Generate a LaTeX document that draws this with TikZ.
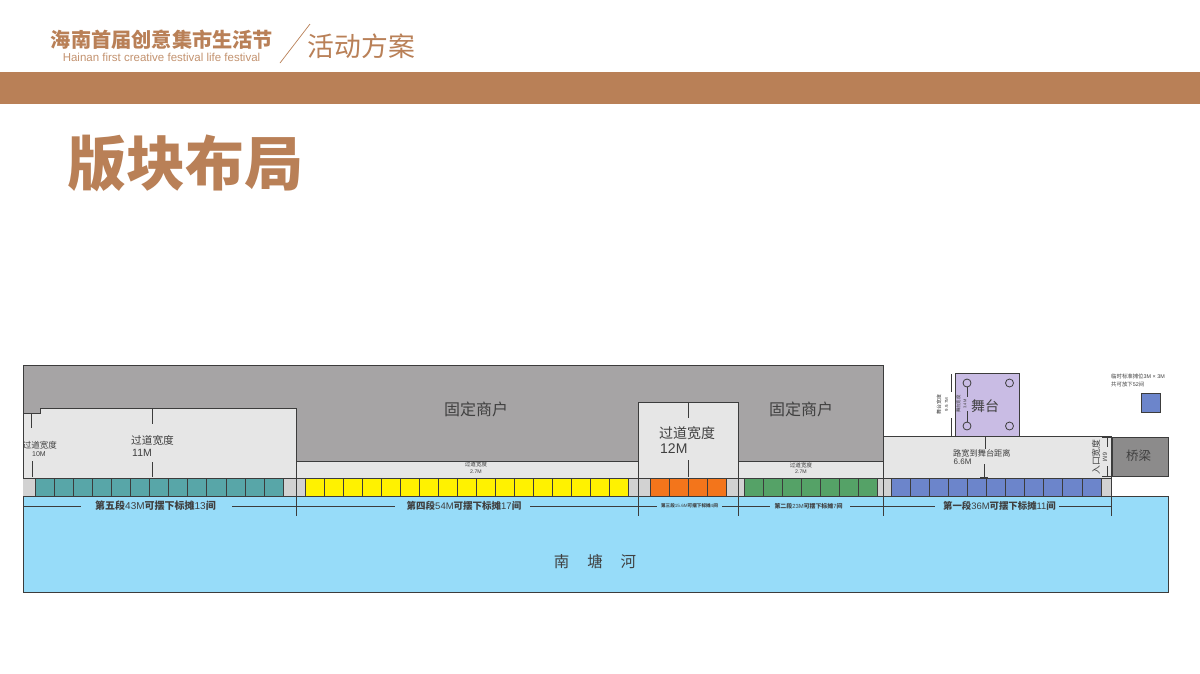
\documentclass[tikz,border=0pt]{standalone}
\usepackage{fontspec}
\setmainfont{Noto Sans CJK SC}
\newfontfamily\latinfont{Liberation Sans}
\usetikzlibrary{positioning}
\definecolor{brandBrown}{HTML}{B98057}
\definecolor{shopGray}{HTML}{A6A4A5}
\definecolor{walkGray}{HTML}{E6E6E6}
\definecolor{gapGray}{HTML}{D2D2D2}
\definecolor{lineDark}{HTML}{3C3C3C}
\definecolor{textDark}{HTML}{404040}
\definecolor{riverBlue}{HTML}{97DCF9}
\definecolor{bridgeGray}{HTML}{8C8B8B}
\definecolor{stageViolet}{HTML}{C9BCE4}
\definecolor{stallTeal}{HTML}{58A6A8}
\definecolor{stallYellow}{HTML}{FFF200}
\definecolor{stallOrange}{HTML}{F3751B}
\definecolor{stallGreen}{HTML}{55A267}
\definecolor{stallBlue}{HTML}{6C85CB}
\newcommand{\fs}[1]{\fontsize{#1}{#1}\selectfont}
\newcommand{\seglabel}[3]{\textbf{#1}{\latinfont #2}\textbf{可摆下标摊}{\latinfont #3}\textbf{间}}
\tikzset{
    plot/.style={draw=lineDark, line width=0.8pt},
    rule/.style={draw=lineDark, line width=0.7pt},
    lbl/.style={inner sep=0pt, text=textDark, align=left},
    head/.style={inner sep=0pt, text=brandBrown},
    pillar/.style={draw=lineDark, line width=0.8pt, fill=stageViolet}
}
\begin{document}
\begin{tikzpicture}[x=1pt, y=-1pt]
    \useasboundingbox (0,0) rectangle (1200,673);
    \fill[white] (0,0) rectangle (1200,673);

    \fill[brandBrown] (0,72) rectangle (1200,104);
    \node[head, font=\fs{20.2}\bfseries] (brand) at (162,40) {海南首届创意集市生活节};
    \node[head, font=\latinfont\fs{11.5}, opacity=0.85] (brandEn) at (161.5,57) {Hainan first creative festival life festival};
    \coordinate (slashA) at (280,63);
    \coordinate (slashB) at (310,24);
    \draw[brandBrown, line width=0.7pt] (slashA) -- (slashB);
    \node[head, font=\fs{26.8}] (plan) at (361.5,46) {活动方案};
    \node[head, font=\fs{59}\bfseries] (title) at (185,163) {版块布局};

    \filldraw[plot, fill=riverBlue] (23,496) rectangle (1168,592);
    \filldraw[plot, fill=shopGray] (23,365) rectangle (883,478);
    \filldraw[plot, fill=walkGray] (23,413) -- (40,413) -- (40,408) -- (296,408) -- (296,478) -- (23,478) -- cycle;
    \filldraw[plot, fill=walkGray] (296,461) rectangle (638,478);
    \filldraw[plot, fill=walkGray] (738,461) rectangle (883,478);
    \filldraw[plot, fill=walkGray] (638,402) rectangle (738,478);
    \filldraw[plot, fill=walkGray] (883,436) rectangle (1111,478);
    \fill[gapGray] (23.4,478) rectangle (1111,496);
    \draw[plot] (23,478) -- (1111,478);
    \draw[plot] (1111,478) -- (1111,496);

    \foreach \startx/\endx/\num/\col in {35.5/283/13/stallTeal, 305/628/17/stallYellow, 650/726/4/stallOrange, 744/877/7/stallGreen, 891/1101/11/stallBlue} {
        \pgfmathsetmacro{\cellw}{(\endx-\startx)/\num}
        \foreach \i in {1,...,\num} {
            \filldraw[rule, fill=\col] ({\startx+(\i-1)*\cellw},478) rectangle ({\startx+\i*\cellw},496);
        }
    }

    \foreach \divx/\topy in {296/478, 638.5/478, 738/478, 883/478, 1111/496} {
        \draw[rule] (\divx,\topy) -- (\divx,516);
    }
    \foreach \xa/\xb in {23/81, 232/395, 530/657, 722/770, 850/935, 1059/1111} {
        \draw[rule] (\xa,506) -- (\xb,506);
    }

    \node[lbl, font=\fs{10}] (segFive) at (155.5,506) {\seglabel{第五段}{43M}{13}};
    \node[lbl, font=\fs{9.5}] (segFour) at (464,506) {\seglabel{第四段}{54M}{17}};
    \node[lbl, font=\fs{4.6}] (segThree) at (689.5,506) {\seglabel{第三段}{15.6M}{4}};
    \node[lbl, font=\fs{5.9}] (segTwo) at (808.5,506) {\seglabel{第二段}{23M}{7}};
    \node[lbl, font=\fs{9.4}] (segOne) at (999.5,506) {\seglabel{第一段}{36M}{11}};

    \node[lbl, font=\fs{16}] (shopA) at (476,409) {固定商户};
    \node[lbl, font=\fs{16}] (shopB) at (801,409) {固定商户};

    \draw[rule] (31,413) -- (31,428);
    \draw[rule] (32,461) -- (32,477);
    \node[lbl, font=\fs{8.5}] (walkTen) at (40,445) {过道宽度};
    \node[lbl, font=\latinfont\fs{7}] (walkTenV) at (39,454) {10M};

    \draw[rule] (152.5,408) -- (152.5,424);
    \draw[rule] (152.5,462) -- (152.5,477);
    \node[lbl, font=\fs{10.7}] (walkEleven) at (152.5,440) {过道宽度};
    \node[lbl, font=\latinfont\fs{10.5}, anchor=west] (walkElevenV) at (132,453) {11M};

    \draw[rule] (688,402) -- (688,418);
    \draw[rule] (688,460) -- (688,477);
    \node[lbl, font=\fs{14}] (walkTwelve) at (687,433) {过道宽度};
    \node[lbl, font=\latinfont\fs{14}, anchor=west] (walkTwelveV) at (660,449) {12M};

    \node[lbl, font=\fs{5.6}] (walkA) at (476,464.5) {过道宽度};
    \node[lbl, font=\latinfont\fs{5.2}] (walkAV) at (476,471.5) {2.7M};
    \node[lbl, font=\fs{5.6}] (walkB) at (801,465) {过道宽度};
    \node[lbl, font=\latinfont\fs{5.2}] (walkBV) at (801,471.5) {2.7M};

    \node[lbl, font=\fs{15.5}] (river) at (595,562) {南\hspace{18pt}塘\hspace{18pt}河};

    \filldraw[plot, fill=bridgeGray] (1112,437) rectangle (1168,476);
    \node[lbl, font=\fs{12.5}] (bridge) at (1138.5,456) {桥梁};

    \filldraw[plot, fill=stageViolet] (955,373.5) rectangle (1019,436);
    \foreach \px/\py in {967/383, 1009.5/383, 967/426, 1009.5/426} {
        \draw[pillar] (\px,\py) circle (4);
    }
    \draw[rule] (967,387) -- (967,397);
    \draw[rule] (967,411) -- (967,422);
    \node[lbl, font=\fs{14}] (stage) at (985,406) {舞台};
    \node[lbl, font=\fs{4.4}, rotate=90] (stageInner) at (958.5,404) {舞台宽度};
    \node[lbl, font=\latinfont\fs{4}, rotate=90] (stageInnerV) at (965,404) {3.4M};
    \draw[rule] (951,374) -- (951,392);
    \draw[rule] (951,418) -- (951,436);
    \node[lbl, font=\fs{5}, rotate=90] (stageOuter) at (939,404.5) {舞台宽度};
    \node[lbl, font=\latinfont\fs{4.4}, rotate=90] (stageOuterV) at (946.5,404.5) {9.9.7M};

    \draw[rule] (985,436) -- (985,449);
    \draw[rule] (984,464) -- (984,477);
    \draw[rule] (980,477) -- (988,477);
    \node[lbl, font=\fs{8.2}, anchor=west] (stageGap) at (953,453) {路宽到舞台距离};
    \node[lbl, font=\latinfont\fs{8}, anchor=west] (stageGapV) at (953.5,461.5) {6.6M};

    \draw[rule] (1102,437) -- (1111,437);
    \draw[rule] (1102,476) -- (1111,476);
    \draw[rule] (1107.5,437) -- (1107.5,447);
    \draw[rule] (1107.5,466) -- (1107.5,476);
    \node[lbl, font=\fs{8.8}, rotate=90] (gate) at (1096,457) {入口宽度};
    \node[lbl, font=\latinfont\fs{6.2}, rotate=-90] (gateV) at (1105,457) {6M};

    \node[lbl, font=\fs{5.4}, anchor=west] (legendA) at (1111,376) {临时标准摊位{\latinfont 3M × 3M}};
    \node[lbl, font=\fs{5.4}, anchor=west] (legendB) at (1111,384) {共可放下{\latinfont 52}间};
    \filldraw[plot, fill=stallBlue] (1141.5,393) rectangle (1160,412);
\end{tikzpicture}
\end{document}
